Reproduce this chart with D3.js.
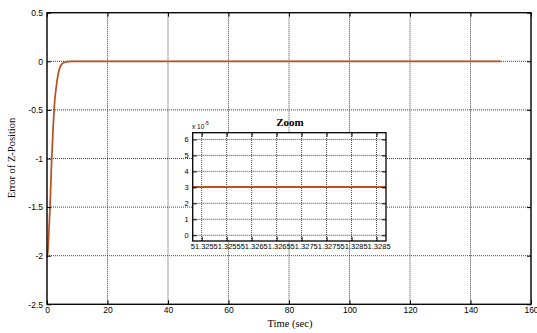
<!DOCTYPE html>
<html>
<head>
<meta charset="utf-8">
<script src="https://cdn.jsdelivr.net/npm/d3@7"></script>
<style>
  body { margin: 0; background: #fff; }
  svg { display: block; }
  .tick text { font-family: "Liberation Sans", Arial, sans-serif; fill: #000; }
  .grid line { stroke: #444; stroke-dasharray: 1,1; }
</style>
</head>
<body>
<svg id="chart" width="537" height="333"></svg>
<script>
// values
var timeSec = [0, 0.3, 0.7, 1.0, 1.5, 2.0, 2.4, 3.2, 4.3, 5.4, 7, 8.2, 150];
var zError = [-2.02, -1.95, -1.7, -1.5, -1.05, -0.7, -0.47, -0.23, -0.06, -0.015, -0.003, 0, 0];
var xTicks = [0, 20, 40, 60, 80, 100, 120, 140, 160];
var yTicks = [0.5, 0, -0.5, -1, -1.5, -2, -2.5];

// zoom inset (error in units of 1e-5)
var zoomTime = [51.32482, 51.32869];
var zoomError = [3.02, 3.02];
var zoomXTicks = [51.325, 51.3255, 51.326, 51.3265, 51.327, 51.3275, 51.328, 51.3285];
var zoomYTicks = [0, 1, 2, 3, 4, 5, 6];

var lineColor = "#bb4f1d";
var svg = d3.select("#chart");

var padL = 47, padR = 531, padT = 12.7, padB = 304.3;
var x = d3.scaleLinear().domain([0, 160]).range([padL, padR]);
var y = d3.scaleLinear().domain([-2.5, 0.5]).range([padB, padT]);

function drawGrid(g, xs, ys, xv, yv) {
    var gr = g.append("g").attr("class", "grid");
    gr.selectAll(".vx").data(xv).enter().append("line")
        .attr("x1", function (d) { return xs(d); })
        .attr("x2", function (d) { return xs(d); })
        .attr("y1", ys.range()[0]).attr("y2", ys.range()[1]);
    gr.selectAll(".hy").data(yv).enter().append("line")
        .attr("y1", function (d) { return ys(d); })
        .attr("y2", function (d) { return ys(d); })
        .attr("x1", xs.range()[0]).attr("x2", xs.range()[1]);
}

function drawAxes(g, xs, ys, xv, yv, fs, xfmt) {
    var x0 = xs.range()[0], x1 = xs.range()[1];
    var y0 = ys.range()[0], y1 = ys.range()[1];
    var ax = g.append("g").attr("transform", "translate(0," + y0 + ")")
        .call(d3.axisBottom(xs).tickValues(xv).tickSize(-4).tickPadding(3).tickFormat(xfmt));
    ax.selectAll("text").attr("font-size", fs);
    var ay = g.append("g").attr("transform", "translate(" + x0 + ",0)")
        .call(d3.axisLeft(ys).tickValues(yv).tickSize(-4).tickPadding(4)
            .tickFormat(function (d) { return String(d); }));
    ay.selectAll("text").attr("font-size", fs);
    g.append("g").attr("transform", "translate(0," + y1 + ")")
        .call(d3.axisTop(xs).tickValues(xv).tickSize(-4).tickFormat(""));
    g.append("g").attr("transform", "translate(" + x1 + ",0)")
        .call(d3.axisRight(ys).tickValues(yv).tickSize(-4).tickFormat(""));
    g.selectAll(".domain").remove();
    g.selectAll(".tick line").attr("stroke", "#000");
    g.append("rect").attr("x", x0).attr("y", y1)
        .attr("width", x1 - x0).attr("height", y0 - y1)
        .attr("fill", "none").attr("stroke", "#000").attr("stroke-width", 1.3);
}

// main chart
var main = svg.append("g");
drawGrid(main, x, y, xTicks, yTicks);

var line = d3.line()
    .x(function (d, i) { return x(timeSec[i]); })
    .y(function (d) { return y(d); })
    .curve(d3.curveMonotoneX);
main.append("path").datum(zError)
    .attr("d", line).attr("fill", "none")
    .attr("stroke", lineColor).attr("stroke-width", 1.7);

drawAxes(main, x, y, xTicks, yTicks, 8.5, function (d) { return String(d); });

svg.append("text").attr("x", 290).attr("y", 327)
    .attr("text-anchor", "middle")
    .attr("font-family", "Liberation Serif, Times New Roman, serif")
    .attr("font-size", 10.5).text("Time (sec)");
svg.append("text")
    .attr("transform", "translate(15,158) rotate(-90)")
    .attr("text-anchor", "middle")
    .attr("font-family", "Liberation Serif, Times New Roman, serif")
    .attr("font-size", 10.5).text("Error of Z-Position");

// zoom inset
var zx = d3.scaleLinear().domain(zoomTime).range([192.7, 386]);
var zy = d3.scaleLinear().domain([-0.36, 6.42]).range([241, 132.7]);
var inset = svg.append("g");
inset.append("rect").attr("x", 192.7).attr("y", 132.7)
    .attr("width", 386 - 192.7).attr("height", 241 - 132.7).attr("fill", "#fff");
drawGrid(inset, zx, zy, zoomXTicks, zoomYTicks);

var zline = d3.line()
    .x(function (d, i) { return zx(zoomTime[i]); })
    .y(function (d) { return zy(d); });
inset.append("path").datum(zoomError)
    .attr("d", zline).attr("fill", "none")
    .attr("stroke", lineColor).attr("stroke-width", 2);

drawAxes(inset, zx, zy, zoomXTicks, zoomYTicks, 7.5, function (d) { return String(+d.toFixed(4)); });

inset.append("text").attr("x", 290).attr("y", 126)
    .attr("text-anchor", "middle")
    .attr("font-family", "Liberation Serif, Times New Roman, serif")
    .attr("font-weight", "bold").attr("font-size", 11).text("Zoom");
var sc = inset.append("text").attr("x", 192).attr("y", 128.5)
    .attr("font-family", "Liberation Sans, Arial, sans-serif").attr("font-size", 6.5);
sc.append("tspan").text("x 10");
sc.append("tspan").attr("dy", -3.5).attr("font-size", 5).text("-5");
</script>
</body>
</html>
